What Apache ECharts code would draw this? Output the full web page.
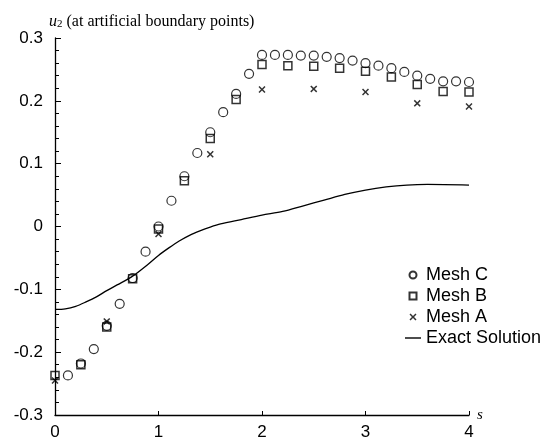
<!DOCTYPE html>
<html>
<head>
<meta charset="utf-8">
<script src="https://cdn.jsdelivr.net/npm/echarts@6/dist/echarts.min.js"></script>
<style>
  html, body { margin: 0; padding: 0; background: #fff; }
  #chart { width: 554px; height: 444px; }
</style>
</head>
<body>
<div id="chart"></div>
<script>
// values: [s, u2]
const meshC = [
  [0.125, -0.237], [0.25, -0.218], [0.375, -0.195], [0.5, -0.158],
  [0.625, -0.123], [0.75, -0.082], [0.875, -0.040], [1.0, 0.0],
  [1.125, 0.041], [1.25, 0.080], [1.375, 0.117], [1.5, 0.150],
  [1.625, 0.182], [1.75, 0.211], [1.875, 0.243], [2.0, 0.273],
  [2.125, 0.273], [2.25, 0.273], [2.375, 0.272], [2.5, 0.272],
  [2.625, 0.270], [2.75, 0.268], [2.875, 0.264], [3.0, 0.260],
  [3.125, 0.256], [3.25, 0.252], [3.375, 0.246], [3.5, 0.240],
  [3.625, 0.235], [3.75, 0.231], [3.875, 0.231], [4.0, 0.230]
]
const meshB = [
  [0, -0.237], [0.25, -0.220], [0.5, -0.160], [0.75, -0.083],
  [1.0, -0.004], [1.25, 0.073], [1.5, 0.140], [1.75, 0.202],
  [2.0, 0.258], [2.25, 0.256], [2.5, 0.255], [2.75, 0.252],
  [3.0, 0.247], [3.25, 0.238], [3.5, 0.226], [3.75, 0.215], [4.0, 0.214]
]
const meshA = [
  [0, -0.245], [0.5, -0.151], [1.0, -0.012], [1.5, 0.115], [2.0, 0.218],
  [2.5, 0.219], [3.0, 0.214], [3.5, 0.196], [4.0, 0.191]
]
const exact = [
  [0, -0.132], [0.1, -0.131], [0.2, -0.127], [0.3, -0.120], [0.4, -0.112],
  [0.5, -0.102], [0.6, -0.093], [0.75, -0.079], [0.9, -0.060], [1.0, -0.046],
  [1.1, -0.034], [1.2, -0.023], [1.3, -0.014], [1.4, -0.007], [1.5, -0.001],
  [1.6, 0.004], [1.8, 0.011], [2.0, 0.018], [2.2, 0.024], [2.4, 0.033],
  [2.6, 0.042], [2.8, 0.051], [3.0, 0.058], [3.2, 0.063], [3.4, 0.066],
  [3.6, 0.067], [4.0, 0.066]
]

const crossPath = 'path://M0,1.5L1.5,0L5,3.5L8.5,0L10,1.5L6.5,5L10,8.5L8.5,10L5,6.5L1.5,10L0,8.5L3.5,5Z'
const squarePath = 'path://M0,0H10V10H0Z'
const dashPath = 'path://M0,0H16V1.4H0Z'
const sans = 'Liberation Sans'
const serif = 'Liberation Serif'

const chart = echarts.init(document.getElementById('chart'))
chart.setOption({
  animation: false,
  backgroundColor: '#fff',
  title: {
    text: '{u|u}{sub|2} (at artificial boundary points)',
    left: 44,
    top: 8,
    textStyle: {
      fontFamily: serif,
      fontSize: 16,
      fontWeight: 'normal',
      color: '#000',
      rich: {
        u: { fontFamily: serif, fontStyle: 'italic', fontSize: 16, color: '#000' },
        sub: { fontFamily: serif, fontSize: 11, color: '#000', verticalAlign: 'bottom', padding: [6, 0, 0, 0] }
      }
    }
  },
  legend: {
    orient: 'vertical',
    left: 400,
    top: 261,
    itemWidth: 16,
    itemHeight: 7,
    itemGap: 3,
    textStyle: { fontFamily: sans, fontSize: 18, color: '#000', lineHeight: 18 },
    data: [
      { name: 'Mesh C', icon: 'circle' },
      { name: 'Mesh B', icon: squarePath },
      { name: 'Mesh A', icon: crossPath },
      { name: 'Exact Solution', icon: dashPath }
    ]
  },
  grid: { left: 55, right: 85, top: 38, bottom: 29 },
  xAxis: {
    type: 'value',
    min: 0,
    max: 4,
    interval: 1,
    name: 's',
    nameLocation: 'end',
    nameGap: 8,
    nameTextStyle: { fontFamily: serif, fontStyle: 'italic', fontSize: 15, color: '#000', verticalAlign: 'middle' },
    axisLine: { onZero: false, lineStyle: { color: '#000', width: 1.3 } },
    axisTick: { inside: true, length: 4, lineStyle: { color: '#000' } },
    axisLabel: { fontFamily: sans, fontSize: 17, color: '#000', margin: 9 },
    splitLine: { show: false }
  },
  yAxis: {
    type: 'value',
    min: -0.3,
    max: 0.3,
    interval: 0.1,
    axisLine: { show: true, onZero: false, lineStyle: { color: '#000', width: 1.3 } },
    axisTick: { show: true, inside: true, length: 6, lineStyle: { color: '#000' } },
    minorTick: { show: true, splitNumber: 5, length: 4, lineStyle: { color: '#000' } },
    axisLabel: {
      fontFamily: sans,
      fontSize: 17,
      color: '#000',
      margin: 12,
      formatter: v => (Math.abs(v) < 1e-9 ? '0' : v.toFixed(1))
    },
    splitLine: { show: false }
  },
  series: [
    {
      name: 'Mesh C',
      type: 'scatter',
      symbol: 'circle',
      symbolSize: 9,
      itemStyle: { color: 'rgba(255,255,255,0)', borderColor: '#000', borderWidth: 1.2 },
      data: meshC
    },
    {
      name: 'Mesh B',
      type: 'scatter',
      symbol: squarePath,
      symbolSize: 8,
      itemStyle: { color: 'rgba(255,255,255,0)', borderColor: '#000', borderWidth: 1.5 },
      data: meshB
    },
    {
      name: 'Mesh A',
      type: 'scatter',
      symbol: crossPath,
      symbolSize: 7,
      itemStyle: { color: '#000' },
      data: meshA
    },
    {
      name: 'Exact Solution',
      type: 'line',
      symbol: 'none',
      smooth: 0.3,
      lineStyle: { color: '#000', width: 1.3 },
      itemStyle: { color: '#000' },
      data: exact
    }
  ]
})
</script>
</body>
</html>
